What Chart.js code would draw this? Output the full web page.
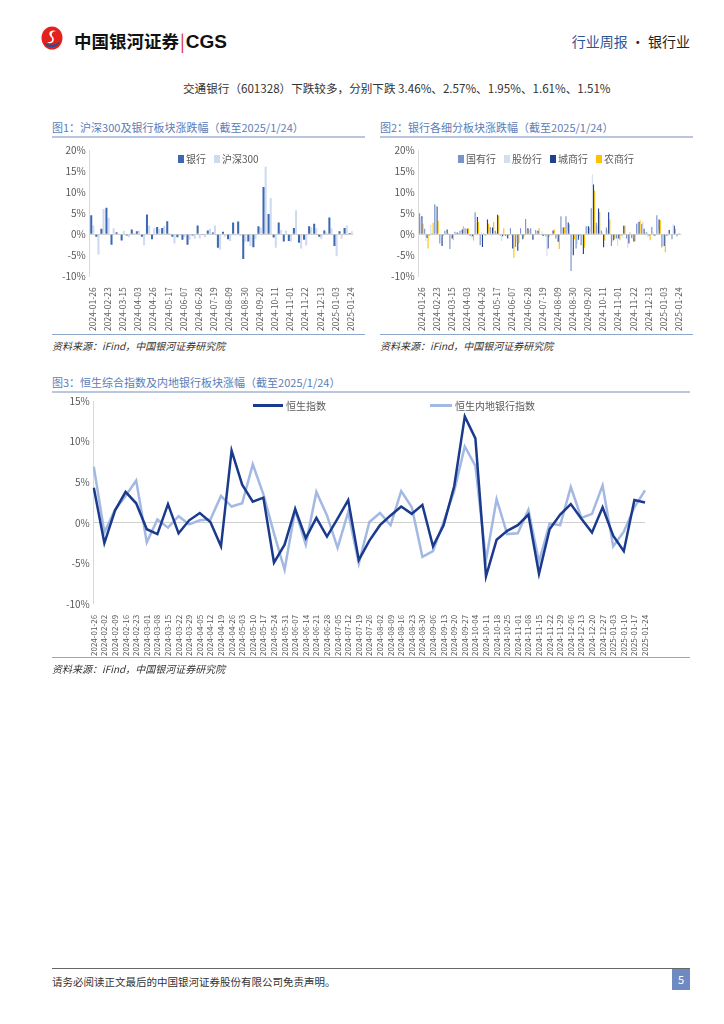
<!DOCTYPE html>
<html>
<head>
<meta charset="utf-8">
<script src="https://cdn.jsdelivr.net/npm/chart.js@4.4.1/dist/chart.umd.min.js"></script>
<style>
    body { margin: 0; background: #fff; font-family: "Noto Sans CJK SC", "Noto Sans", sans-serif; }
    .page { position: relative; width: 724px; height: 1024px; overflow: hidden; }
    .abs { position: absolute; }
    .brand { left: 74px; top: 28px; font-size: 17.5px; font-weight: 700; color: #111; white-space: nowrap; }
    .brand .bar { color: #d9261c; font-weight: 400; margin: 0 1px; }
    .brand .cgs { font-family: "Liberation Sans", Arial, sans-serif; font-size: 19px; }
    .report { right: 34px; top: 31px; font-size: 14px; color: #222; white-space: nowrap; }
    .report .blue { color: #2f5597; }
    .lead { left: 183px; top: 80px; font-size: 11.6px; color: #333; white-space: nowrap; }
    .figtitle { font-size: 11px; color: #5b7db7; white-space: nowrap; }
    .rule { height: 2px; background: #b8c6e0; }
    .thin { height: 1px; background: #8fa6cf; }
    .source { font-size: 10px; color: #333; font-style: italic; white-space: nowrap; }
    .box { position: absolute; }
    .legend { font-size: 10px; color: #595959; white-space: nowrap; display: flex; align-items: center; }
    .legend span.sw { display: inline-block; width: 6px; height: 8px; margin: 0 2px 0 0; }
    .legend span.ln { display: inline-block; width: 30px; height: 3px; margin: 0 3px 0 0; }
    .legend .item { display: flex; align-items: center; margin-right: 8px; }
    .footer { left: 52px; top: 974px; font-size: 10.5px; color: #333; white-space: nowrap; }
    .pageno { left: 672px; top: 969px; width: 18px; height: 21px; background: #6e8ac0; color: #fff; font-size: 11px; text-align: center; line-height: 21px; }
</style>
</head>
<body>
<div class="page">
    <!-- header -->
    <svg class="abs" style="left:41px;top:26px" width="22" height="24" viewBox="0 0 22 24">
        <ellipse cx="11" cy="12" rx="10.5" ry="11.5" fill="#e3231b"/>
        <path d="M3 17 C6 23, 17 23, 20 14 C17 19, 9 20, 3 17 Z" fill="#1c4f9c"/>
        <path d="M15 5 C10 3, 6 7, 10 11 C13 14, 10 17, 6 16 C9 19, 15 16, 12 11 C9 8, 12 5, 15 5 Z" fill="#fff"/>
    </svg>
    <div class="abs brand">中国银河证券<span class="bar">|</span><span class="cgs">CGS</span></div>
    <div class="abs report"><span class="blue">行业周报</span> · 银行业</div>

    <div class="abs lead">交通银行（601328）下跌较多，分别下跌 3.46%、2.57%、1.95%、1.61%、1.51%</div>

    <!-- figure 1 -->
    <div class="abs figtitle" style="left:52px;top:119px">图1：沪深300及银行板块涨跌幅（截至2025/1/24）</div>
    <div class="abs rule" style="left:52px;top:136px;width:313px"></div>
    <div class="box" style="left:52px;top:140px;width:312px;height:194px"><canvas id="bankChart"></canvas></div>
    <div class="abs legend" style="left:178px;top:151px">
        <div class="item"><span class="sw" style="background:#3d68b3"></span>银行</div>
        <div class="item"><span class="sw" style="background:#cddaf0"></span>沪深300</div>
    </div>
    <div class="abs thin" style="left:52px;top:334px;width:313px"></div>
    <div class="abs source" style="left:52px;top:338px">资料来源：iFind，中国银河证券研究院</div>

    <!-- figure 2 -->
    <div class="abs figtitle" style="left:380px;top:119px">图2：银行各细分板块涨跌幅（截至2025/1/24）</div>
    <div class="abs rule" style="left:380px;top:136px;width:313px"></div>
    <div class="box" style="left:380px;top:140px;width:312px;height:194px"><canvas id="segmentChart"></canvas></div>
    <div class="abs legend" style="left:458px;top:151px">
        <div class="item"><span class="sw" style="background:#7b93c8"></span>国有行</div>
        <div class="item"><span class="sw" style="background:#d3def2"></span>股份行</div>
        <div class="item"><span class="sw" style="background:#1f3f91"></span>城商行</div>
        <div class="item"><span class="sw" style="background:#ffc000"></span>农商行</div>
    </div>
    <div class="abs thin" style="left:380px;top:334px;width:313px"></div>
    <div class="abs source" style="left:380px;top:338px">资料来源：iFind，中国银河证券研究院</div>

    <!-- figure 3 -->
    <div class="abs figtitle" style="left:52px;top:374px">图3：恒生综合指数及内地银行板块涨幅（截至2025/1/24）</div>
    <div class="abs rule" style="left:52px;top:391px;width:638px"></div>
    <div class="box" style="left:52px;top:391px;width:638px;height:268px"><canvas id="hkChart"></canvas></div>
    <div class="abs legend" style="left:253px;top:398px">
        <div class="item" style="margin-right:104px"><span class="ln" style="background:#1a3a8c"></span>恒生指数</div>
        <div class="item"><span class="ln" style="background:#a3b8e3;width:22px"></span>恒生内地银行指数</div>
    </div>
    <div class="abs thin" style="left:52px;top:657px;width:638px"></div>
    <div class="abs source" style="left:52px;top:661px">资料来源：iFind，中国银河证券研究院</div>

    <!-- footer -->
    <div class="abs" style="left:52px;top:968px;width:638px;height:1px;background:#666"></div>
    <div class="abs footer">请务必阅读正文最后的中国银河证券股份有限公司免责声明。</div>
    <div class="abs pageno">5</div>
</div>

<script>
// A-share trading weeks (Fig 1 & 2)
const weeksA = ['2024-01-26', '2024-02-02', '2024-02-08', '2024-02-23', '2024-03-01', '2024-03-08', '2024-03-15',
    '2024-03-22', '2024-03-29', '2024-04-03', '2024-04-12', '2024-04-19', '2024-04-26', '2024-04-30', '2024-05-10',
    '2024-05-17', '2024-05-24', '2024-05-31', '2024-06-07', '2024-06-14', '2024-06-21', '2024-06-28', '2024-07-05',
    '2024-07-12', '2024-07-19', '2024-07-26', '2024-08-02', '2024-08-09', '2024-08-16', '2024-08-23', '2024-08-30',
    '2024-09-06', '2024-09-13', '2024-09-20', '2024-09-27', '2024-09-30', '2024-10-11', '2024-10-18', '2024-10-25',
    '2024-11-01', '2024-11-08', '2024-11-15', '2024-11-22', '2024-11-29', '2024-12-06', '2024-12-13', '2024-12-20',
    '2024-12-27', '2025-01-03', '2025-01-10', '2025-01-17', '2025-01-24'];

// Hong Kong weeks (Fig 3)
const weeksHK = ['2024-01-26', '2024-02-02', '2024-02-09', '2024-02-16', '2024-02-23', '2024-03-01', '2024-03-08',
    '2024-03-15', '2024-03-22', '2024-03-29', '2024-04-05', '2024-04-12', '2024-04-19', '2024-04-26', '2024-05-03',
    '2024-05-10', '2024-05-17', '2024-05-24', '2024-05-31', '2024-06-07', '2024-06-14', '2024-06-21', '2024-06-28',
    '2024-07-05', '2024-07-12', '2024-07-19', '2024-07-26', '2024-08-02', '2024-08-09', '2024-08-16', '2024-08-23',
    '2024-08-30', '2024-09-06', '2024-09-13', '2024-09-20', '2024-09-27', '2024-10-04', '2024-10-11', '2024-10-18',
    '2024-10-25', '2024-11-01', '2024-11-08', '2024-11-15', '2024-11-22', '2024-11-29', '2024-12-06', '2024-12-13',
    '2024-12-20', '2024-12-27', '2025-01-03', '2025-01-10', '2025-01-17', '2025-01-24'];

// Fig 1 (%)
const bankIdx = [4.5, -0.6, 1.3, 6.3, -2.5, 0.5, -1.5, -0.3, 1.1, 0.7, -0.6, 4.7, -1.2, 1.7, 1.5, 3.1, -0.6, -0.7,
    -1.3, -2.5, -0.3, 2.1, -0.2, 0.9, 0.4, -3.2, 0.6, -1.2, 2.8, 3.0, -5.9, -1.7, -3.1, 1.9, 11.2, 4.8, -0.8, 2.8,
    -1.7, -1.6, 1.5, -2.0, -1.3, 1.9, 2.5, -0.6, 0.9, 4.0, -2.8, 0.7, 1.5, 0.3];
const hs300 = [2.1, -4.8, 6.0, 3.9, 1.4, 0.2, 0.8, -0.7, 0.3, 0.9, -2.6, 2.1, 1.4, 1.3, 2.0, 0.3, -2.2, -0.3,
    -0.7, -1.3, -1.1, -1.0, -0.7, 1.3, 2.1, -3.6, -0.6, -1.6, -0.3, -0.4, -1.8, -2.8, -1.2, 1.6, 16.0, 8.6, -3.2, 1.0,
    0.9, -1.8, 5.7, -3.4, -2.7, 1.6, 1.4, -1.1, 0.4, 1.4, -5.2, -1.1, 2.1, 0.7];

// Fig 2 (%)
const stateOwned = [5.0, 1.3, -0.3, 7.1, -2.2, 0.8, -3.5, 0.6, 0.8, 1.4, -0.4, 5.2, -2.6, -0.3, 1.7, 0.8, -0.3, -0.4,
    1.4, -3.0, 1.4, 3.6, 1.4, 1.0, 0.1, -0.5, -0.2, -1.0, 4.3, 4.3, -8.7, -3.4, -2.6, 1.9, 6.2, 2.7, 0.9, 1.6,
    -2.8, -1.0, -0.3, -1.0, -0.9, 2.5, 2.5, 0.5, 1.7, 4.5, -3.1, -0.4, -1.2, -0.5];
const jointStock = [3.8, -1.6, 2.3, 6.8, -0.8, 0.5, -0.5, -0.3, 0.6, 0.8, -0.8, 2.0, 0.6, -0.3, -0.4, 0.5, -1.6, -0.6,
    -0.5, -2.0, -0.4, 1.0, 0.3, 0.5, 0.7, -5.2, -0.4, -1.0, 1.5, 1.0, -3.0, -2.3, -2.6, 1.9, 14.2, 2.0, 0.5, 1.0,
    -1.8, -2.8, -0.8, -3.2, -1.0, 2.7, 3.1, -0.8, 0.6, 1.0, -2.8, -0.3, 2.4, 0.3];
const cityComm = [4.3, -0.9, 0.2, 6.6, -2.8, 1.1, -1.0, 0.4, 1.1, 1.3, -0.5, 4.1, -3.0, 3.5, 1.6, 4.6, -0.5, -1.0,
    -3.4, -3.9, -1.2, 1.4, -1.3, 0.8, -0.4, -3.4, 0.9, -1.8, 1.6, 2.8, -5.0, -1.3, -4.7, 1.9, 11.8, 6.1, -3.1, 5.2,
    -1.4, -1.0, 2.0, -2.2, -1.7, 2.9, 1.3, -0.3, -0.3, 3.5, -2.8, 1.0, 2.0, 0.2];
const ruralComm = [2.5, -3.4, 2.7, 3.2, -0.4, 0.3, -1.4, 0.3, 1.9, 1.4, -1.5, 2.9, 0.3, 2.5, 2.9, 4.4, 1.4, -0.3,
    -5.6, -2.2, -0.6, 1.1, 0.1, 1.5, 0.2, -0.6, 1.1, -3.5, 1.7, 2.3, -1.2, -0.5, -3.2, 1.6, 10.4, 5.3, -1.5, 3.5,
    -1.0, -1.4, 2.0, 0.5, -1.7, 3.3, 0.4, -1.4, -0.5, 3.3, -4.3, 0.1, 1.3, 0.1];

// Fig 3 (%)
const hangSeng = [4.3, -2.5, 1.5, 3.8, 2.4, -0.8, -1.4, 2.3, -1.3, 0.3, 1.2, 0.1, -2.9, 8.9, 4.7, 2.6, 3.1, -4.9,
    -2.7, 1.7, -1.9, 0.6, -1.7, 0.5, 2.8, -4.6, -2.2, -0.3, 0.9, 2.0, 1.1, 2.2, -2.9, -0.3, 4.5, 13.1, 10.4, -6.6,
    -2.1, -1.0, -0.3, 1.0, -6.3, -0.8, 1.0, 2.3, 0.5, -1.2, 1.9, -1.6, -3.5, 2.8, 2.5];
const hsMainlandBank = [6.9, -1.2, 1.6, 3.3, 5.2, -2.4, 0.4, -0.6, 0.8, -0.2, 0.3, 0.4, 3.3, 2.0, 2.4, 7.2, 3.5, -1.3,
    -5.8, 1.6, -2.7, 3.8, 0.9, -3.1, 1.3, -5.0, 0.1, 1.2, -0.3, 3.9, 1.9, -4.2, -3.5, 0.1, 3.9, 9.4, 7.0, -4.6,
    2.9, -1.4, -1.3, 1.6, -4.8, -0.1, -0.3, 4.4, 0.6, 1.1, 4.6, -2.9, -1.1, 1.9, 4.0];

Chart.defaults.font.family = '"Noto Sans CJK SC", "Noto Sans", sans-serif';
Chart.defaults.color = '#595959';
Chart.defaults.animation = false;

const zeroGrid = {
    drawTicks: false,
    color: (c) => (c.tick && c.tick.value === 0 ? '#d0d0d0' : 'rgba(0,0,0,0)')
};

function yScale(min, max) {
    return {
        min: min,
        max: max,
        border: { display: true, color: '#d9d9d9' },
        grid: zeroGrid,
        ticks: { stepSize: 5, padding: 4, font: { size: 10 }, callback: (v) => v + '%' }
    };
}

function xScale(every, size) {
    return {
        border: { display: false },
        grid: { display: false },
        ticks: {
            autoSkip: false,
            minRotation: 90,
            maxRotation: 90,
            padding: 3,
            font: { size: size },
            callback: function (v, i) {
                return i % every === 0 ? this.getLabelForValue(v) : '';
            }
        }
    };
}

const baseOptions = {
    responsive: true,
    maintainAspectRatio: false,
    plugins: { legend: { display: false }, tooltip: { enabled: false } }
};

// Fig 1
new Chart(document.getElementById('bankChart'), {
    type: 'bar',
    data: {
        labels: weeksA,
        datasets: [
            { label: '银行', data: bankIdx, backgroundColor: '#3d68b3' },
            { label: '沪深300', data: hs300, backgroundColor: '#cddaf0' }
        ]
    },
    options: {
        ...baseOptions,
        layout: { padding: { left: 6, right: 8, top: 4, bottom: 0 } },
        datasets: { bar: { categoryPercentage: 0.85, barPercentage: 0.95 } },
        scales: { x: xScale(3, 8.5), y: yScale(-10, 20) }
    }
});

// Fig 2
new Chart(document.getElementById('segmentChart'), {
    type: 'bar',
    data: {
        labels: weeksA,
        datasets: [
            { label: '国有行', data: stateOwned, backgroundColor: '#7b93c8' },
            { label: '股份行', data: jointStock, backgroundColor: '#d3def2' },
            { label: '城商行', data: cityComm, backgroundColor: '#1f3f91' },
            { label: '农商行', data: ruralComm, backgroundColor: '#ffc000' }
        ]
    },
    options: {
        ...baseOptions,
        layout: { padding: { left: 7, right: 6, top: 4, bottom: 0 } },
        datasets: { bar: { categoryPercentage: 0.9, barPercentage: 1.0 } },
        scales: { x: xScale(3, 8.5), y: yScale(-10, 20) }
    }
});

// Fig 3
new Chart(document.getElementById('hkChart'), {
    type: 'line',
    data: {
        labels: weeksHK,
        datasets: [
            { label: '恒生指数', data: hangSeng, borderColor: '#1a3a8c', borderWidth: 2.5, pointRadius: 0, tension: 0 },
            { label: '恒生内地银行指数', data: hsMainlandBank, borderColor: '#a3b8e3', borderWidth: 2.5, pointRadius: 0, tension: 0 }
        ]
    },
    options: {
        ...baseOptions,
        layout: { padding: { left: 10, right: 45, top: 0, bottom: 0 } },
        scales: { x: xScale(1, 8), y: yScale(-10, 15) }
    }
});
</script>
</body>
</html>
